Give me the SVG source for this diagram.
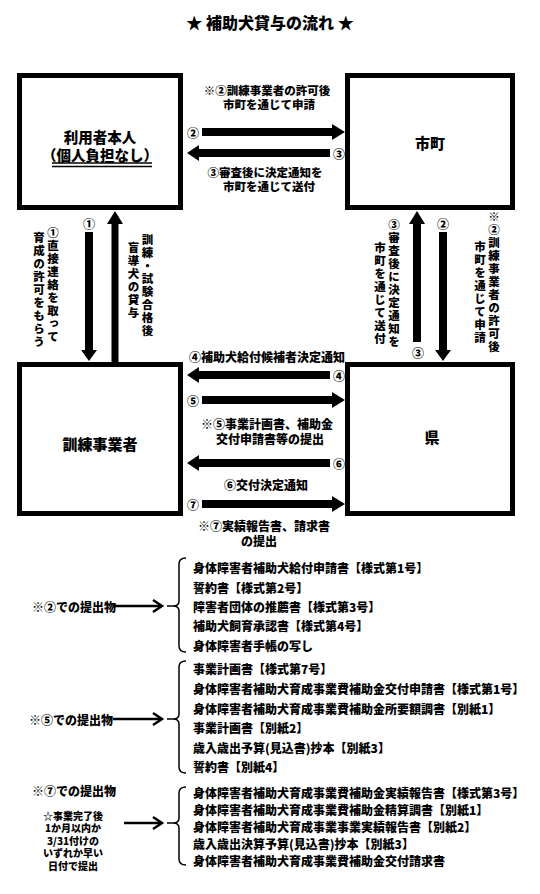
<svg xmlns="http://www.w3.org/2000/svg" width="540" height="894" viewBox="0 0 540 894">
<style>
text{font-family:"Noto Sans CJK JP","Noto Sans",sans-serif;font-weight:900;fill:#000}
.h{dominant-baseline:central;text-anchor:middle}
.l{dominant-baseline:central;text-anchor:start}
.box{fill:#fff;stroke:#000;stroke-width:5}
.v{writing-mode:vertical-rl;font-size:11.5px;letter-spacing:1.5px}
.lab{font-size:12px}
.lab2{font-size:11.5px}
.big{font-size:15px}
.big2{font-size:14.5px}
.it{font-size:12px}
.sm{font-size:10px}
.ar{fill:#000}
.thin{fill:none;stroke:#000;stroke-width:2.5}
.br{fill:none;stroke:#000;stroke-width:1.5}
</style>
<rect width="540" height="894" fill="#fff"/>
<text class="h" x="270" y="22" font-size="16">★ 補助犬貸与の流れ ★</text>

<g id="user">
<rect class="box" x="19.5" y="75.5" width="161" height="132"/>
<text class="h big2" x="100" y="136">利用者本人</text>
<text class="h big2" x="100" y="154">（個人負担なし）</text>
<line x1="52" y1="163" x2="152" y2="163" stroke="#000" stroke-width="1.5"/>
<line x1="52" y1="166.5" x2="152" y2="166.5" stroke="#000" stroke-width="1.5"/>
</g>
<g id="city">
<rect class="box" x="347.5" y="75.5" width="165" height="132"/>
<text class="h big" x="430" y="142">市町</text>
</g>
<g id="trainer">
<rect class="box" x="19.5" y="364.5" width="161" height="149"/>
<text class="h big" x="100" y="443">訓練事業者</text>
</g>
<g id="pref">
<rect class="box" x="347.5" y="364.5" width="165" height="149"/>
<text class="h big" x="432" y="436">県</text>
</g>

<g id="connectors">
<polygon class="ar" points="202,128 332,128 332,124 345,132 332,140 332,136 202,136"/>
<polygon class="ar" points="187,153 199,145 199,149 330,149 330,157 199,157 199,161"/>
<polygon class="ar" points="187,375 199,367 199,371 330,371 330,379 199,379 199,383"/>
<polygon class="ar" points="202,396 332,396 332,392 345,400 332,408 332,404 202,404"/>
<polygon class="ar" points="187,463 199,455 199,459 330,459 330,467 199,467 199,471"/>
<polygon class="ar" points="202,500 332,500 332,496 345,504 332,512 332,508 202,508"/>
<polygon class="ar" points="85,232 93,232 93,350 97,350 89,361 81,350 85,350"/>
<polygon class="ar" points="115,211 123,224 118.5,224 118.5,363 111.5,363 111.5,224 107,224"/>
<polygon class="ar" points="417,211 425,224 421,224 421,342 413,342 413,224 409,224"/>
<polygon class="ar" points="439,232 447,232 447,350 451,350 443,361 435,350 439,350"/>

<text class="h lab" x="193" y="132">②</text>
<text class="h lab" x="339" y="153">③</text>
<text class="h lab" x="339" y="375">④</text>
<text class="h lab" x="193" y="400">⑤</text>
<text class="h lab" x="339" y="463">⑥</text>
<text class="h lab" x="193" y="504">⑦</text>
<text class="h lab" x="89" y="223">①</text>
<text class="h lab" x="443" y="223">②</text>
<text class="h lab" x="418" y="352">③</text>

<text class="h lab2" x="267" y="90">※②訓練事業者の許可後</text>
<text class="h lab2" x="269" y="104">市町を通じて申請</text>
<text class="h lab2" x="265" y="172">③審査後に決定通知を</text>
<text class="h lab2" x="269" y="186">市町を通じて送付</text>
<text class="h lab" x="267" y="356">④補助犬給付候補者決定通知</text>
<text class="h lab" x="267" y="423">※⑤事業計画書、補助金</text>
<text class="h lab" x="270" y="438">交付申請書等の提出</text>
<text class="h lab" x="266" y="484">⑥交付決定通知</text>
<text class="h lab" x="264" y="525">※⑦実績報告書、請求書</text>
<text class="h lab" x="259" y="540">の提出</text>

<text class="v" x="53" y="227">①直接連絡を取って</text>
<text class="v" x="39" y="232">育成の許可をもらう</text>
<text class="v" x="147.5" y="234">訓練・試験合格後</text>
<text class="v" x="133.5" y="242">盲導犬の貸与</text>
<text class="v" x="394" y="219">③審査後に決定通知を</text>
<text class="v" x="380" y="242">市町を通じて送付</text>
<text class="v" x="494" y="211">※②訓練事業者の許可後</text>
<text class="v" x="480" y="241">市町を通じて申請</text>
</g>

<g id="list2">
<text class="l it" x="32" y="606">※②での提出物</text>
<line class="thin" x1="113" y1="606" x2="161" y2="606"/>
<polyline class="thin" points="153,600 162,606 153,612"/>
<path class="br" d="M186,558 Q179,558 179,564 L179,601 Q179,606 173,606 L167,606 M173,606 Q179,606 179,611 L179,646 Q179,652 186,652"/>
<text class="l it" x="193" y="567">身体障害者補助犬給付申請書【様式第1号】</text>
<text class="l it" x="193" y="587">誓約書【様式第2号】</text>
<text class="l it" x="193" y="606">障害者団体の推薦書【様式第3号】</text>
<text class="l it" x="193" y="625">補助犬飼育承認書【様式第4号】</text>
<text class="l it" x="193" y="645">身体障害者手帳の写し</text>
</g>

<g id="list5">
<text class="l it" x="29" y="719">※⑤での提出物</text>
<line class="thin" x1="113" y1="719" x2="161" y2="719"/>
<polyline class="thin" points="153,713 162,719 153,725"/>
<path class="br" d="M186,661 Q179,661 179,667 L179,714 Q179,719 173,719 L167,719 M173,719 Q179,719 179,724 L179,767 Q179,773 186,773"/>
<text class="l it" x="193" y="668">事業計画書【様式第7号】</text>
<text class="l it" x="193" y="688">身体障害者補助犬育成事業費補助金交付申請書【様式第1号】</text>
<text class="l it" x="193" y="708">身体障害者補助犬育成事業費補助金所要額調書【別紙1】</text>
<text class="l it" x="193" y="727">事業計画書【別紙2】</text>
<text class="l it" x="193" y="747">歳入歳出予算(見込書)抄本【別紙3】</text>
<text class="l it" x="193" y="766">誓約書【別紙4】</text>
</g>

<g id="list7">
<text class="l it" x="32" y="790">※⑦での提出物</text>
<text class="h sm" x="73" y="815">☆事業完了後</text>
<text class="h sm" x="73" y="827.5">1か月以内か</text>
<text class="h sm" x="73" y="840">3/31付けの</text>
<text class="h sm" x="73" y="852.5">いずれか早い</text>
<text class="h sm" x="73" y="865">日付で提出</text>
<line class="thin" x1="124" y1="823" x2="161" y2="823"/>
<polyline class="thin" points="153,817 162,823 153,829"/>
<path class="br" d="M186,787 Q179,787 179,793 L179,818 Q179,823 173,823 L167,823 M173,823 Q179,823 179,828 L179,859 Q179,865 186,865"/>
<text class="l it" x="193" y="792">身体障害者補助犬育成事業費補助金実績報告書【様式第3号】</text>
<text class="l it" x="193" y="809">身体障害者補助犬育成事業費補助金精算調書【別紙1】</text>
<text class="l it" x="193" y="826">身体障害者補助犬育成事業事業実績報告書【別紙2】</text>
<text class="l it" x="193" y="843">歳入歳出決算予算(見込書)抄本【別紙3】</text>
<text class="l it" x="193" y="860">身体障害者補助犬育成事業費補助金交付請求書</text>
</g>
</svg>
